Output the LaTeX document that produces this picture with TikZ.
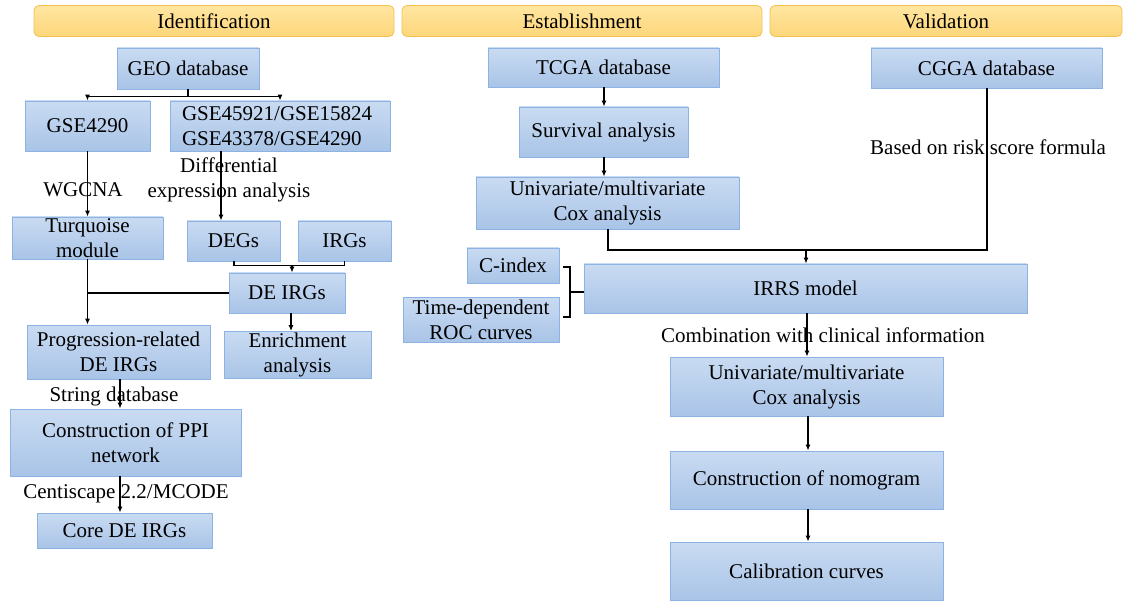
\documentclass[tikz,border=0pt]{standalone}
\usepackage{fontspec}
\setmainfont{Liberation Serif}
\usetikzlibrary{arrows.meta}
\definecolor{boxtop}{HTML}{C9DBF2}
\definecolor{boxbot}{HTML}{A9C4E7}
\definecolor{boxline}{HTML}{8DB3E2}
\definecolor{hdrtop}{HTML}{FFE6A1}
\definecolor{hdrbot}{HTML}{FDD67A}
\definecolor{hdrline}{HTML}{F3C24F}

\begin{document}
\begin{tikzpicture}[x=1pt,y=-1pt,line width=1.2pt,
	font=\fontsize{21}{25}\selectfont,
	box/.style 2 args={draw=boxline,line width=0.8pt,top color=boxtop,bottom color=boxbot,
		inner sep=0pt,align=center,minimum width=#1pt,minimum height=#2pt},
	hdr/.style={draw=hdrline,line width=0.8pt,rounded corners=5pt,top color=hdrtop,
		bottom color=hdrbot,inner sep=0pt,minimum width=#1pt,minimum height=31pt},
	lbl/.style={inner sep=0pt,align=center},
	arr/.style={-{Latex[length=6pt,width=5pt]}}]
	\fill[white] (0,0) rectangle (1123,601);
	\useasboundingbox (0,0) rectangle (1123,601);
	% headers
	\node[hdr=360] (hdrid) at (214,21) {Identification};
	\node[hdr=360] (hdres) at (582,21) {Establishment};
	\node[hdr=352] (hdrva) at (946,21) {Validation};
	% identification
	\node[box={142}{41}] (geo) at (188,68.5) {GEO database};
	\node[box={125}{50}] (gseA) at (87.5,126) {GSE4290};
	\node[box={220}{50},align=left,text width=196pt,inner xsep=12pt] (gseB) at (280,126) {GSE45921/GSE15824\\GSE43378/GSE4290};
	\node[box={151}{42}] (turq) at (87.5,238) {Turquoise\\module};
	\node[box={93}{40}] (degs) at (233.5,241) {DEGs};
	\node[box={93}{40}] (irgs) at (344.5,241) {IRGs};
	\node[box={116}{40}] (deirg) at (287,293) {DE IRGs};
	\node[box={147}{47}] (enr) at (297.5,355) {Enrichment\\analysis};
	\node[box={183}{54}] (prog) at (118.5,352) {Progression-related\\DE IRGs};
	\node[box={231}{67}] (ppi) at (125.5,442.5) {Construction of PPI\\network};
	\node[box={175}{35}] (core) at (124.5,530.5) {Core DE IRGs};
	\node[lbl] (wgcna) at (83,190) {WGCNA};
	\node[lbl] (diffex) at (229,180) {Differential\\expression analysis};
	\node[lbl] (string) at (114,396) {String database};
	\node[lbl] (centi) at (126,494) {Centiscape 2.2/MCODE};
	% establishment
	\node[box={231}{39}] (tcga) at (603.5,67.5) {TCGA database};
	\node[box={169}{50}] (surv) at (603.5,132) {Survival analysis};
	\node[box={263}{52}] (cox1) at (607.5,203) {Univariate/multivariate\\Cox analysis};
	\node[box={443}{49}] (irrs) at (805.5,288.5) {IRRS model};
	\node[box={92}{35}] (cidx) at (513,265.5) {C-index};
	\node[box={156}{45}] (roc) at (481,320) {Time-dependent\\ROC curves};
	\node[box={273}{59}] (cox2) at (806.5,386.5) {Univariate/multivariate\\Cox analysis};
	\node[box={273}{58}] (nomo) at (806.5,480) {Construction of nomogram};
	\node[box={273}{58}] (calib) at (806.5,571) {Calibration curves};
	\node[lbl] (combi) at (823,335) {Combination with clinical information};
	% validation
	\node[box={231}{40}] (cgga) at (986.5,68) {CGGA database};
	\node[lbl] (risk) at (988,147) {Based on risk score formula};
	% connectors, identification
	\draw[arr] (geo.south) -- ++(0,7) -| (gseA.north);
	\draw[arr] (geo.south) ++(0,7) -| (gseB.north);
	\draw[arr] (gseA.south) -- (turq.north);
	\draw[arr] (gseB.south -| 221,0) -- (degs.north -| 221,0);
	\draw (degs.south -| 234,0) -- ++(0,4) -| (irgs.south);
	\draw[arr] (292,265) -- (deirg.north -| 292,0);
	\draw[arr] (turq.south) -- (prog.north -| turq.south);
	\draw (deirg.west) -- (deirg.west -| turq.south);
	\draw[arr] (deirg.south -| 291,0) -- (enr.north -| 291,0);
	\draw[arr] (prog.south -| 120,0) -- (ppi.north -| 120,0);
	\draw[arr] (ppi.south -| 120,0) -- (core.north -| 120,0);
	% connectors, establishment and validation
	\draw[arr] (tcga.south -| 604,0) -- (surv.north -| 604,0);
	\draw[arr] (surv.south -| 604,0) -- (cox1.north -| 604,0);
	\draw (cox1.south -| 608,0) |- (987,250) -- (cgga.south -| 987,0);
	\draw[arr] (806,250) -- (irrs.north -| 806,0);
	\draw[arr] (irrs.south -| 807,0) -- (cox2.north -| 807,0);
	\foreach \a/\b in {cox2/nomo,nomo/calib}
		\draw[arr] (\a.south -| 808,0) -- (\b.north -| 808,0);
	\draw (563,267) -- (570,267) -- (570,317) -- (563,317);
	\draw (570,292) -- (irrs.west |- 0,292);
\end{tikzpicture}
\end{document}
